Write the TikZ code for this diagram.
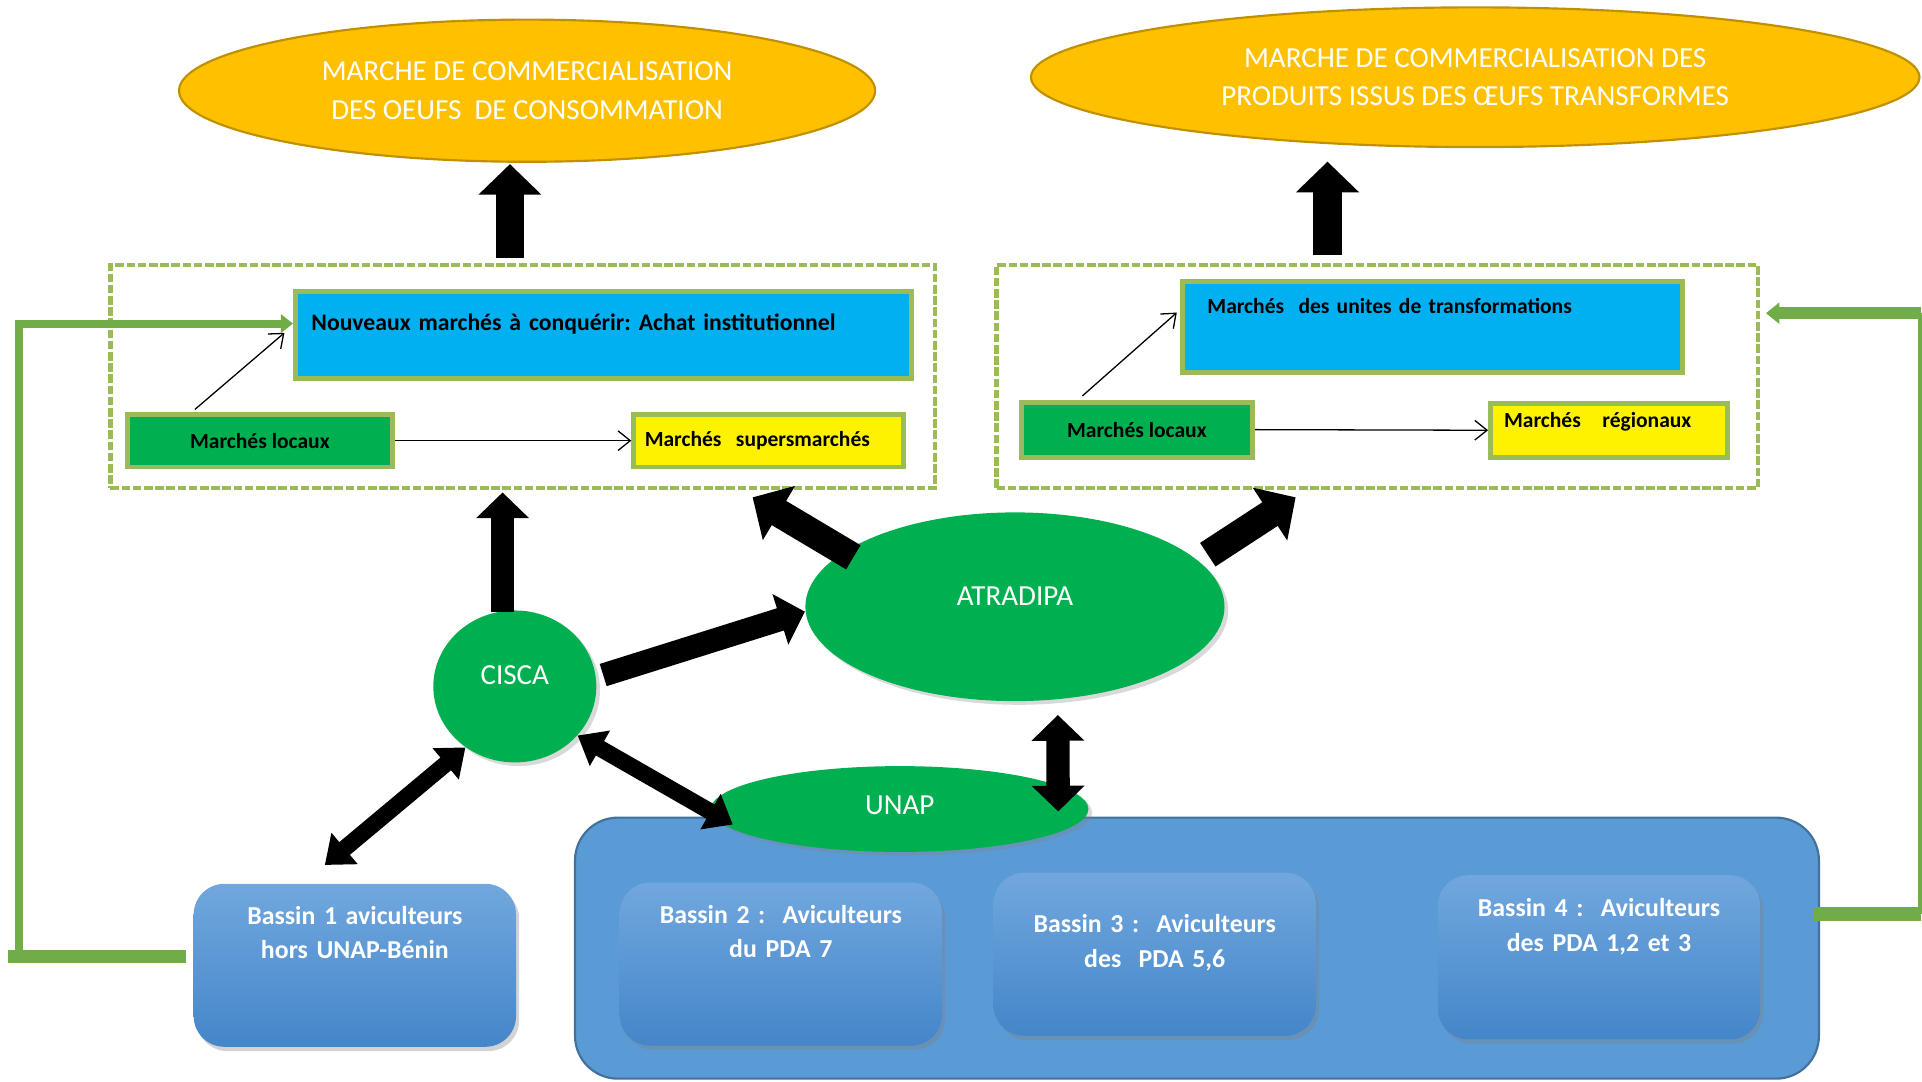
\documentclass[tikz,border=0pt]{standalone}
\usepackage{fontspec}
\setmainfont{Carlito}
\frenchspacing
\usetikzlibrary{shapes.geometric,arrows.meta,calc,shadows}
\definecolor{gold}{HTML}{FFC000}
\definecolor{golddark}{HTML}{BF9000}
\definecolor{leaf}{HTML}{00B050}
\definecolor{sky}{HTML}{00B0F0}
\definecolor{framegreen}{HTML}{9BBB59}
\definecolor{feedgreen}{HTML}{70AD47}
\definecolor{poolblue}{HTML}{5B9BD5}
\definecolor{pooldark}{HTML}{41719C}
\definecolor{basintop}{HTML}{71A7DE}
\definecolor{basinbot}{HTML}{4486C9}
\tikzstyle{market}=[ellipse,draw=golddark,line width=1pt,fill=gold,text=white,align=center,inner sep=0pt,font=\fontsize{13.5}{18}\selectfont]
\tikzstyle{frame}=[rectangle,draw=framegreen,line width=2pt,dash pattern=on 4pt off 1.2pt,inner sep=0pt,minimum height=3.64cm]
\tikzstyle{cell}=[rectangle,draw=framegreen,line width=0.08cm,inner sep=0pt,font=\bfseries\fontsize{10}{12}\selectfont]
\tikzstyle{newbox}=[cell,fill=sky,align=left]
\tikzstyle{locbox}=[cell,fill=leaf]
\tikzstyle{supbox}=[cell,fill=yellow,align=left]
\tikzstyle{actor}=[ellipse,fill=leaf,text=white,inner sep=0pt,font=\fontsize{13.5}{16}\selectfont,drop shadow={opacity=0.3,shadow xshift=0.06cm,shadow yshift=-0.06cm}]
\tikzstyle{pool}=[rectangle,rounded corners=0.7cm,fill=poolblue,draw=pooldark,line width=1pt]
\tikzstyle{basin}=[rectangle,rounded corners=0.5cm,top color=basintop,bottom color=basinbot,text=white,align=center,text width=5cm,minimum width=5.26cm,inner sep=0pt,font=\bfseries\fontsize{12}{15.9}\selectfont,drop shadow={opacity=0.35,shadow xshift=0.05cm,shadow yshift=-0.07cm}]
\tikzstyle{bigarr}=[line width=0.46cm,>={Triangle[length=0.5cm,width=1cm]}]
\tikzstyle{midarr}=[line width=0.38cm,>={Triangle[length=0.42cm,width=0.84cm]}]
\tikzstyle{smallarr}=[line width=0.27cm,>={Triangle[length=0.42cm,width=0.64cm]}]
\tikzstyle{link}=[line width=0.6pt,-{Straight Barb[length=0.2cm,width=0.32cm]}]
\tikzstyle{feed}=[draw=feedgreen,line width=0.13cm]

\begin{document}
\begin{tikzpicture}[x=0.02cm,y=-0.02cm]
\useasboundingbox (0,0) rectangle (1568,882);
\node[market,minimum width=11.36cm,minimum height=2.32cm] (eggmkt) at (430,74) {MARCHE DE COMMERCIALISATION\\DES OEUFS~ DE CONSOMMATION};
\node[market,minimum width=14.5cm,minimum height=2.28cm] (procmkt) at (1203.5,63) {MARCHE DE COMMERCIALISATION DES\\PRODUITS ISSUS DES ŒUFS TRANSFORMES};
\node[frame,minimum width=13.46cm] (lbox) at (426.5,307) {};
\node[frame,minimum width=12.42cm] (rbox) at (1123.5,307) {};
\node[newbox,minimum width=10.06cm,text width=9.54cm,inner xsep=0.26cm,text height=0.64cm,text depth=0.78cm,font=\bfseries\fontsize{11}{13}\selectfont] (lnew) at (492.5,273.5) {Nouveaux marchés à conquérir: Achat institutionnel};
\node[locbox,minimum width=4.32cm,minimum height=0.86cm] (lloc) at (212,359.5) {Marchés locaux};
\node[supbox,minimum width=4.4cm,minimum height=0.86cm,text width=4.04cm,inner xsep=0.18cm] (lsup) at (627,359.5) {Marchés~ supersmarchés};
\node[newbox,minimum width=8.16cm,text width=7.36cm,inner xsep=0.4cm,text height=0.52cm,text depth=0.96cm] (rtrans) at (1169,267) {Marchés~ des unites de transformations};
\node[locbox,minimum width=3.78cm,minimum height=0.9cm] (rloc) at (927.5,350.5) {Marchés locaux};
\node[supbox,minimum width=3.86cm,text width=3.42cm,inner xsep=0.22cm,text height=0.4cm,text depth=0.48cm] (rreg) at (1312.5,351) {Marchés~~ régionaux};
\node[pool,minimum width=20.3cm,minimum height=4.26cm] (pool) at (976.5,773.5) {};
\node[basin,text height=0.66cm,text depth=2.0cm] (b1) at (289.5,787.5) {Bassin 1 aviculteurs\\hors UNAP-Bénin};
\node[basin,text height=0.66cm,text depth=2.0cm] (b2) at (637,786.5) {Bassin 2 :~ Aviculteurs\\du PDA 7};
\node[basin,text height=0.98cm,text depth=1.68cm] (b3) at (942,778.5) {Bassin 3 :~ Aviculteurs\\des~ PDA 5,6};
\node[basin,text height=0.68cm,text depth=2.0cm] (b4) at (1304.5,781) {Bassin 4 :~ Aviculteurs\\des PDA 1,2 et 3};
\node[actor,minimum width=2.66cm,minimum height=2.48cm,text height=0.31cm,text depth=0.36cm] (cisca) at (420,560) {CISCA};
\node[actor,minimum width=6.84cm,minimum height=3.08cm,text height=0.31cm,text depth=0.36cm] (atradipa) at (828,495) {ATRADIPA};
\node[actor,minimum width=6.16cm,minimum height=1.4cm,text height=0.31cm,text depth=0.12cm] (unap) at (734,660) {UNAP};
\draw[bigarr,->] ($(lbox.north)+(-10.5,-4)$) -- ($(eggmkt.south)+(-14,1)$);
\draw[bigarr,->] ($(rbox.north)+(-40.5,-6)$) -- ($(procmkt.south)+(-120.5,11)$);
\draw[midarr,->] ($(cisca.north)+(-10,2)$) -- ($(lbox.south)+(-16.5,2)$);
\draw[bigarr,->] ($(atradipa.163)+(10,3)$) -- ($(lbox.south)+(187.5,6)$);
\draw[bigarr,->] ($(atradipa.15)+(10,-3)$) -- ($(rbox.south)+(-66.5,6)$);
\draw[midarr,->] ($(cisca.8)+(6,0)$) -- ($(atradipa.west)+(0,4)$);
\draw[midarr,<->] ($(atradipa.south)+(35,11)$) -- ($(unap.east)+(-25,2)$);
\draw[smallarr,<->] (cisca.-38) -- ($(unap.185)+(8,0)$);
\draw[smallarr,<->] (cisca.231) -- ($(b1.north)+(-24.5,-15)$);
\draw[link] ($(lloc.north west)+(57,-2)$) -- ($(lnew.west)+(-7,-2)$);
\draw[link] (lloc.east) -- (lsup.west);
\draw[link] ($(rloc.north west)+(52,-3)$) -- ($(rtrans.west)+(-3,-12)$);
\draw[link] (rloc.east) -- (rreg.west);
\draw[feed,line width=0.22cm] ($(b1.west)+(-6,-7)$) -- ++(-145,0);
\draw[feed,-{Triangle[length=0.2cm,width=0.3cm]}] ($(b1.west)+(-6,-7)$) ++(-136,0) |- ($(lnew.west)+(0,-9.5)$);
\draw[feed,line width=0.22cm] ($(pool.east)+(-6,-28)$) coordinate (rfoot) -- ++(88,0) coordinate (rcorner);
\draw[feed,line width=0.08cm] (rcorner) -- ++(0,-490) coordinate (rtop);
\draw[feed,line width=0.2cm,-{Triangle[length=0.22cm,width=0.34cm]}] (rtop) -- ($(rtop -| rbox.east)+(5,0)$);
\end{tikzpicture}
\end{document}
